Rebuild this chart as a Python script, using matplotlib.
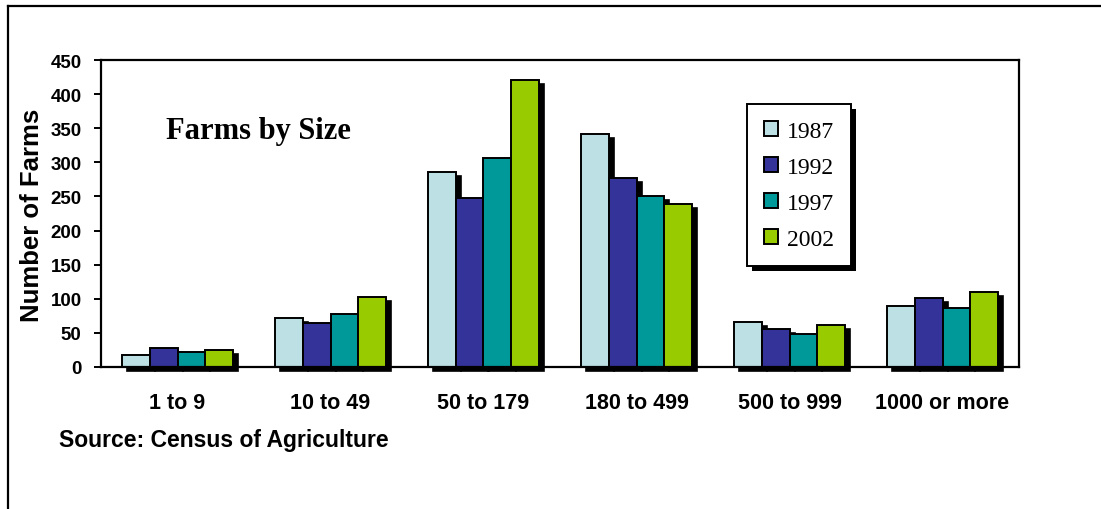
import numpy as np
import matplotlib
matplotlib.use("Agg")
import matplotlib.pyplot as plt
from matplotlib.patches import Rectangle
from matplotlib.transforms import ScaledTranslation

# Data
categories = ["1 to 9", "10 to 49", "50 to 179", "180 to 499", "500 to 999", "1000 or more"]
years = ["1987", "1992", "1997", "2002"]
farms_1987 = [17, 72, 286, 342, 66, 90]
farms_1992 = [28, 64, 248, 277, 55, 101]
farms_1997 = [22, 78, 307, 251, 48, 87]
farms_2002 = [25, 102, 421, 239, 61, 110]
y_ticks = [0, 50, 100, 150, 200, 250, 300, 350, 400, 450]

colors = ["#BCE0E3", "#333399", "#009999", "#99CC00"]
series = [farms_1987, farms_1992, farms_1997, farms_2002]

W, H = 1101, 510
fig = plt.figure(figsize=(W / 100, H / 100), dpi=100)

# outer frame (left and top edges only visible)
fig.add_artist(plt.Line2D([8 / W, 8 / W], [0, 1 - 7 / H], color="black", lw=1.6))
fig.add_artist(plt.Line2D([8 / W, 1], [1 - 7 / H, 1 - 7 / H], color="black", lw=1.6))

left, right, top, bottom = 101, 1019, 61, 368
ax = fig.add_axes([left / W, 1 - bottom / H, (right - left) / W, (bottom - top) / H])

x = np.arange(len(categories))
bw = 0.18
shadow = ax.transData + ScaledTranslation(0.05, -0.04, fig.dpi_scale_trans)

# shadows first, then bars on top
for j, vals in enumerate(series):
    ax.bar(x + (j - 1.5) * bw, vals, bw, color="black", edgecolor="black",
           linewidth=1.2, transform=shadow, zorder=2, clip_on=False)
for j, vals in enumerate(series):
    ax.bar(x + (j - 1.5) * bw, vals, bw, color=colors[j], edgecolor="black",
           linewidth=1.4, label=years[j], zorder=3)

ax.set_xlim(-0.5, len(categories) - 0.5)
ax.set_ylim(0, 450)
ax.set_yticks(y_ticks)
ax.set_xticks(x)
ax.set_xticklabels(categories)
for s in ax.spines.values():
    s.set_linewidth(1.6)
    s.set_zorder(4)

ax.tick_params(axis="x", length=0, pad=18)
ax.tick_params(axis="y", length=5, width=1.4, direction="out", pad=9)
for lab in ax.get_xticklabels():
    lab.set_fontfamily("Liberation Sans")
    lab.set_fontweight("bold")
    lab.set_fontsize(15.5)
for lab in ax.get_yticklabels():
    lab.set_fontfamily("Liberation Sans")
    lab.set_fontweight("bold")
    lab.set_fontsize(13.5)

fig.text(32 / W, 1 - 215 / H, "Number of Farms", rotation=90, ha="center", va="center",
         fontfamily="Liberation Sans", fontweight="bold", fontsize=18.5)
fig.text(166 / W, 1 - 131 / H, "Farms by Size", ha="left", va="center",
         fontfamily="Liberation Serif", fontweight="bold", fontsize=22)
fig.text(59 / W, 1 - 441 / H, "Source: Census of Agriculture", ha="left", va="center",
         fontfamily="Liberation Sans", fontweight="bold", fontsize=16.5)

leg = ax.legend(loc="upper left", bbox_to_anchor=(747 / W, 1 - 105 / H),
                bbox_transform=fig.transFigure, frameon=True, fancybox=False,
                prop={"family": "Liberation Serif", "size": 17},
                handlelength=0.6, handleheight=0.6, handletextpad=0.4,
                labelspacing=0.64, borderpad=0.7, borderaxespad=0)
leg.get_frame().set_edgecolor("black")
leg.get_frame().set_facecolor("white")
leg.get_frame().set_alpha(1)
leg.get_frame().set_linewidth(1.4)
leg.set_zorder(6)

# legend drop shadow
fig.canvas.draw()
bb = leg.get_window_extent()
ax.add_patch(Rectangle((bb.x0 + 5, bb.y0 - 5), bb.width, bb.height, transform=None,
                       facecolor="black", edgecolor="none", zorder=5.5, clip_on=False))

fig.savefig("out.png", dpi=100)
